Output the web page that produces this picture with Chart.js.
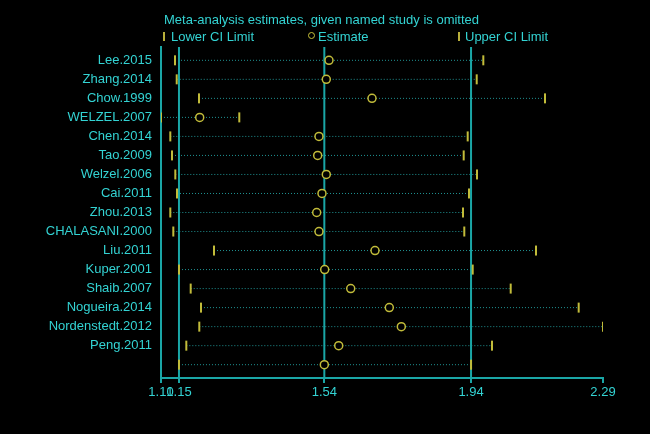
<!DOCTYPE html>
<html>
<head>
<meta charset="utf-8">
<script src="https://cdn.jsdelivr.net/npm/chart.js@4/dist/chart.umd.min.js"></script>
<style>
  html, body { margin: 0; padding: 0; background: #000; }
  #wrap { position: relative; width: 650px; height: 434px; background: #000; overflow: hidden; }
  canvas { position: absolute; left: 0; top: 0; }
  .txt { position: absolute; font-family: "Liberation Sans", Arial, sans-serif; font-size: 13px; color: #33d3d3; white-space: nowrap; line-height: 15px; }
  .bar { position: absolute; width: 2px; height: 9px; background: #b8ae3a; }
  .circ { position: absolute; width: 5px; height: 5px; border: 1.5px solid #c8c23a; border-radius: 50%; box-sizing: content-box; }
</style>
</head>
<body>
<div id="wrap">
  <canvas id="c" width="650" height="434"></canvas>
  <div class="txt" style="left:164px; top:12px;">Meta-analysis estimates, given named study is omitted</div>
  <div class="bar" style="left:163px; top:32px;"></div>
  <div class="txt" style="left:171px; top:29px;">Lower CI Limit</div>
  <div class="circ" style="left:308px; top:32px;"></div>
  <div class="txt" style="left:318px; top:29px;">Estimate</div>
  <div class="bar" style="left:458px; top:32px;"></div>
  <div class="txt" style="left:465px; top:29px;">Upper CI Limit</div>
</div>
<script>
const studies = ['Lee.2015','Zhang.2014','Chow.1999','WELZEL.2007','Chen.2014','Tao.2009','Welzel.2006','Cai.2011','Zhou.2013','CHALASANI.2000','Liu.2011','Kuper.2001','Shaib.2007','Nogueira.2014','Nordenstedt.2012','Peng.2011',''];
const lower    = [1.1403,1.1449,1.2050,1.1025,1.1276,1.1322,1.1411,1.1457,1.1276,1.1357,1.2455,1.1511,1.1826,1.2104,1.2058,1.1708,1.1510];
const estimate = [1.5557,1.5484,1.6717,1.2069,1.5287,1.5252,1.5484,1.5368,1.5225,1.5287,1.6798,1.5441,1.6143,1.7184,1.7508,1.5819,1.5431];
const upper    = [1.9720,1.9542,2.1384,1.3137,1.9299,1.9191,1.9550,1.9334,1.9172,1.9207,2.1141,1.9434,2.0459,2.2293,2.2949,1.9954,1.9389];
const xTicks   = [1.1025,1.1510,1.5431,1.9389,2.2949];
const refLines = [1.1510,1.5431,1.9389];

const TEXT = '#33d3d3';
const AXIS = '#1aa6a6';
const DOT  = '#1f9292';
const MARK = '#c2bc3a';
const Y_MIN = -0.7, Y_MAX = 16.7;

const segData = [];
studies.forEach((s, i) => {
  segData.push({x: lower[i], y: i});
  segData.push({x: upper[i], y: i});
  segData.push({x: null, y: null});
});
const refData = [];
refLines.forEach(v => {
  refData.push({x: v, y: Y_MIN});
  refData.push({x: v, y: Y_MAX});
  refData.push({x: null, y: null});
});

new Chart(document.getElementById('c'), {
  type: 'scatter',
  data: {
    datasets: [
      { label: 'Estimate', data: estimate.map((v, i) => ({x: v, y: i})),
        pointStyle: 'circle', pointRadius: 4, pointBorderWidth: 1.5,
        pointBorderColor: MARK, pointBackgroundColor: '#000', order: 0 },
      { label: 'Lower CI Limit', data: lower.map((v, i) => ({x: v, y: i})),
        pointStyle: 'line', rotation: 90, pointRadius: 5, pointBorderWidth: 2,
        pointBorderColor: MARK, pointBackgroundColor: MARK, order: 1 },
      { label: 'Upper CI Limit', data: upper.map((v, i) => ({x: v, y: i})),
        pointStyle: 'line', rotation: 90, pointRadius: 5, pointBorderWidth: 2,
        pointBorderColor: MARK, pointBackgroundColor: MARK, order: 1 },
      { type: 'line', label: 'ci', data: segData, showLine: true, spanGaps: false,
        borderColor: DOT, borderWidth: 1, borderDash: [1, 2], pointRadius: 0, order: 3 },
      { type: 'line', label: 'ref', data: refData, showLine: true, spanGaps: false,
        borderColor: AXIS, borderWidth: 2, pointRadius: 0, order: 2, clip: false }
    ]
  },
  options: {
    responsive: false,
    animation: false,
    events: [],
    layout: { padding: { left: 0, right: 47, top: 47, bottom: 26 } },
    plugins: { legend: { display: false }, title: { display: false }, tooltip: { enabled: false } },
    scales: {
      x: {
        type: 'linear', min: xTicks[0], max: xTicks[xTicks.length - 1],
        afterBuildTicks: s => { s.ticks = xTicks.map(v => ({value: v})); },
        afterFit: s => { s.height = 30; },
        grid: { display: true, drawOnChartArea: false, drawTicks: true, tickLength: 5, color: AXIS, lineWidth: 2 },
        border: { display: true, color: AXIS, width: 2 },
        ticks: { color: TEXT, autoSkip: false, maxRotation: 0, padding: 2,
                 font: { family: '"Liberation Sans", Arial, sans-serif', size: 13 },
                 callback: v => Number(v).toFixed(2) }
      },
      y: {
        type: 'linear', reverse: true, min: Y_MIN, max: Y_MAX,
        afterBuildTicks: s => { s.ticks = studies.map((_, i) => ({value: i})); },
        afterFit: s => { s.width = 161; },
        grid: { display: false, drawTicks: false },
        border: { display: true, color: AXIS, width: 2 },
        ticks: { color: TEXT, autoSkip: false, padding: 9,
                 font: { family: '"Liberation Sans", Arial, sans-serif', size: 13 },
                 callback: (v) => studies[Math.round(v)] }
      }
    }
  }
});
</script>
</body>
</html>
